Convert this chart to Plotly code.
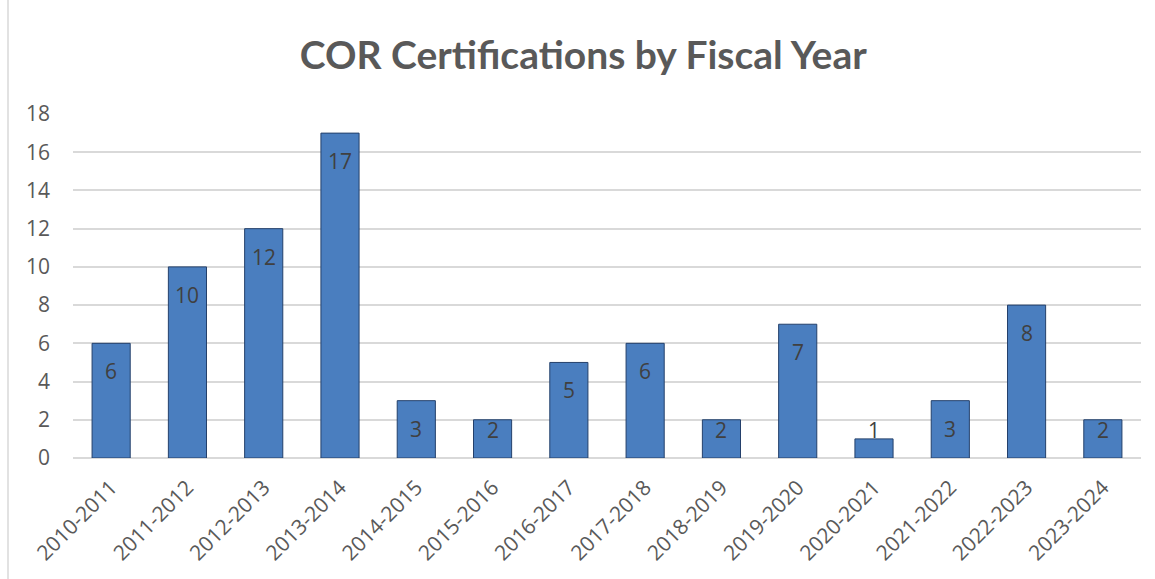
import plotly.graph_objects as go

years = ["2010-2011", "2011-2012", "2012-2013", "2013-2014", "2014-2015", "2015-2016",
         "2016-2017", "2017-2018", "2018-2019", "2019-2020", "2020-2021", "2021-2022",
         "2022-2023", "2023-2024"]
counts = [6, 10, 12, 17, 3, 2, 5, 6, 2, 7, 1, 3, 8, 2]
y_ticks = [0, 2, 4, 6, 8, 10, 12, 14, 16, 18]

fig = go.Figure()
fig.add_trace(go.Bar(
    x=years, y=counts,
    marker=dict(color="#4A7EBF", line=dict(color="#24406B", width=1)),
    cliponaxis=False,
))
for yr, c in zip(years, counts):
    if c >= 3:
        fig.add_annotation(x=yr, y=c, xref="x", yref="y", text=str(c), showarrow=False,
                           yanchor="top", yshift=-12,
                           font=dict(family="Open Sans", size=21, color="#404040"))
    else:
        # short bars: label pinned near the base, as in the original
        fig.add_annotation(x=yr, y=0, xref="x", yref="y", text=str(c), showarrow=False,
                           yanchor="bottom", yshift=12,
                           font=dict(family="Open Sans", size=21, color="#404040"))
fig.update_layout(
    width=1155, height=579,
    margin=dict(l=73, r=14, t=114, b=121),
    paper_bgcolor="white", plot_bgcolor="white",
    bargap=0.5,
    showlegend=False,
    title=dict(text="<b>COR Certifications by Fiscal Year</b>", x=0.505, xanchor="center",
               y=0.905, yanchor="middle",
               font=dict(family="Lato", size=39, color="#595959")),
    font=dict(family="Open Sans", color="#595959"),
)
fig.update_xaxes(tickangle=-45, tickfont=dict(size=21, color="#595959"),
                 showline=False, showgrid=False, ticks="", ticklabelstandoff=12)
fig.update_yaxes(range=[0, 18], tickvals=y_ticks, tickfont=dict(size=21, color="#595959"),
                 gridcolor="#D9D9D9", gridwidth=1.5, zeroline=True, zerolinecolor="#D9D9D9",
                 zerolinewidth=1.5, showline=False, ticks="", ticklabelstandoff=22)
fig.add_shape(type="line", xref="paper", yref="paper",
              x0=-65/1068, x1=-65/1068, y0=-121/344, y1=114/344 + 1,
              line=dict(color="#D9D9D9", width=1.5))
fig.write_html("out.html")
